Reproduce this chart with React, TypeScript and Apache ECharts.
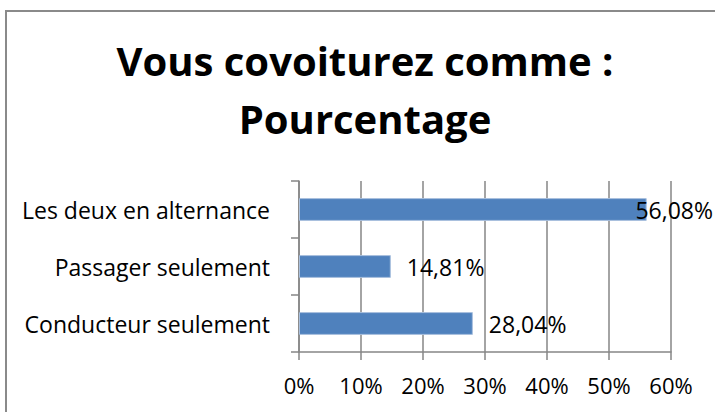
import React, { useEffect, useRef } from "react";
import * as echarts from "echarts";

const titleLines = ["Vous covoiturez comme :", "Pourcentage"];
const categories = ["Conducteur seulement", "Passager seulement", "Les deux en alternance"];
const percentages = [28.04, 14.81, 56.08];
const axisMin = 0;
const axisMax = 60;
const axisStep = 10;

const W = 715;
const H = 412;
const FONT = "Open Sans";
const GRAY = "#868686";

export default function App() {
  const ref = useRef<HTMLDivElement>(null);
  useEffect(() => {
    if (!ref.current) return;
    const chart = echarts.init(ref.current, null, { renderer: "svg" });
    chart.setOption({
      animation: false,
      backgroundColor: "#ffffff",
      title: {
        text: titleLines.join("\n"),
        left: 360,
        textAlign: "center",
        top: 26,
        textStyle: {
          fontFamily: FONT,
          fontWeight: "bold",
          fontSize: 40,
          lineHeight: 58,
          color: "#000000",
        },
      },
      graphic: [
        {
          type: "rect",
          shape: { x: 6, y: 11, width: 800, height: 500 },
          style: { fill: "none", stroke: "#8a8a8a", lineWidth: 2 },
          silent: true,
        },
      ],
      grid: { left: 299, right: W - 671, top: 181, bottom: H - 352 },
      xAxis: {
        type: "value",
        min: axisMin,
        max: axisMax,
        interval: axisStep,
        axisLine: { show: true, lineStyle: { color: GRAY, width: 1.5 } },
        axisTick: { show: true, length: 8, lineStyle: { color: GRAY, width: 1.5 } },
        splitLine: { show: true, lineStyle: { color: GRAY, width: 1.5 } },
        axisLabel: {
          formatter: (v: number) => `${v}%`,
          fontFamily: FONT,
          fontSize: 22,
          color: "#000000",
          margin: 22,
        },
      },
      yAxis: {
        type: "category",
        data: categories,
        axisLine: { show: true, lineStyle: { color: GRAY, width: 1.5 } },
        axisTick: { show: true, length: 8, lineStyle: { color: GRAY, width: 1.5 } },
        axisLabel: {
          fontFamily: FONT,
          fontSize: 23,
          color: "#000000",
          margin: 29,
        },
      },
      series: [
        {
          type: "bar",
          data: percentages,
          barCategoryGap: "60%",
          itemStyle: { color: "#4F81BD", borderColor: "#a9c0de", borderWidth: 1 },
          label: {
            show: true,
            position: "right",
            distance: 16,
            fontFamily: FONT,
            fontSize: 23,
            color: "#000000",
            formatter: (p: any) => `${Number(p.value).toFixed(2).replace(".", ",")}%`,
          },
        },
      ],
      labelLayout: (p: any) => {
        const over = p.labelRect.x + p.labelRect.width - (W - 2);
        return over > 0 ? { dx: -over } : {};
      },
    });
    return () => chart.dispose();
  }, []);
  return (
    <div
      ref={ref}
      style={{ position: "fixed", left: 0, top: 0, width: W, height: H, background: "#fff" }}
    />
  );
}
